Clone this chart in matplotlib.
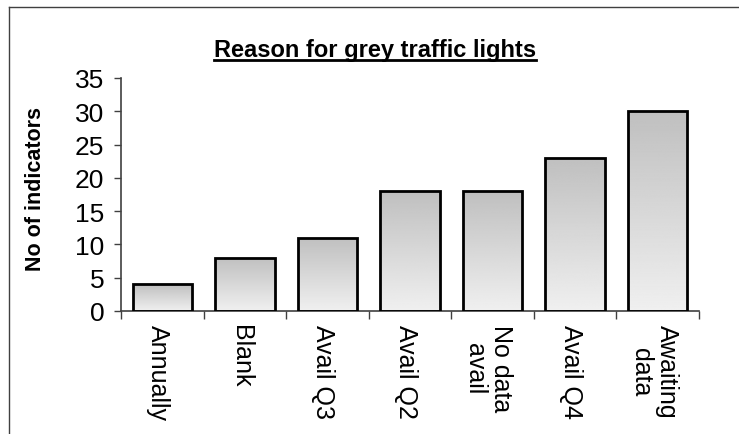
import matplotlib
matplotlib.use('Agg')
import matplotlib.pyplot as plt
import numpy as np
from matplotlib.lines import Line2D

categorias = ['Annually', 'Blank', 'Avail Q3', 'Avail Q2', 'No data\navail', 'Avail Q4', 'Awaiting\ndata']
valores = [4, 8, 11, 18, 18, 23, 30]
ticks_y = [0, 5, 10, 15, 20, 25, 30, 35]

plt.rcParams['font.family'] = ['Liberation Sans', 'DejaVu Sans']

fig = plt.figure(figsize=(7.39, 4.35), dpi=100)
ax = fig.add_axes([121 / 739, 1 - 312 / 435, (699 - 121) / 739, (312 - 79) / 435])

x = np.arange(len(categorias))
barras = ax.bar(x, valores, width=0.72, facecolor='none', edgecolor='black', linewidth=2, zorder=3)

# gradiente: cinza escuro em cima, claro em baixo
grad = np.linspace(0.94, 0.75, 256).reshape(-1, 1)
for b in barras:
    im = ax.imshow(grad, cmap='gray', vmin=0, vmax=1, aspect='auto', origin='lower',
                   extent=[b.get_x(), b.get_x() + b.get_width(), 0, b.get_height()], zorder=2)
    im.set_clip_path(b)

ax.set_xlim(-0.5, len(categorias) - 0.5)
ax.set_ylim(0, 35)
ax.set_yticks(ticks_y)
ax.set_yticklabels([str(t) for t in ticks_y], fontsize=19)
ax.set_xticks(np.arange(len(categorias) + 1) - 0.5)
ax.set_xticklabels([])
ax.tick_params(axis='both', direction='out', length=5, color='#404040', width=1)
ax.tick_params(axis='y', pad=7)
ax.tick_params(axis='x', length=6)

for i, c in enumerate(categorias):
    ax.text(i - 0.05, -2.0, c, rotation=-90, ha='center', va='top', multialignment='center',
            fontsize=18, linespacing=1.1)

for s in ['top', 'right']:
    ax.spines[s].set_visible(False)
for s in ['left', 'bottom']:
    ax.spines[s].set_color('#404040')
    ax.spines[s].set_linewidth(1.2)

fig.text(36 / 739, 1 - 189 / 435, 'No of indicators', rotation=90, ha='center', va='center',
         fontsize=15.5, fontweight='bold')

titulo = fig.text(375 / 739, 1 - 57 / 435, 'Reason for grey traffic lights', ha='center',
                  va='baseline', fontsize=17, fontweight='bold')

# sublinhado do titulo
fig.canvas.draw()
bb = titulo.get_window_extent().transformed(fig.transFigure.inverted())
fig.add_artist(Line2D([bb.x0, bb.x1], [1 - 61 / 435, 1 - 61 / 435], color='black', linewidth=2,
                      transform=fig.transFigure))

# moldura
fig.add_artist(Line2D([9 / 739, 1], [1 - 8 / 435, 1 - 8 / 435], color='#404040', linewidth=1,
                      transform=fig.transFigure))
fig.add_artist(Line2D([9 / 739, 9 / 739], [0, 1 - 8 / 435], color='#404040', linewidth=1,
                      transform=fig.transFigure))

fig.savefig('out.png', dpi=100)
